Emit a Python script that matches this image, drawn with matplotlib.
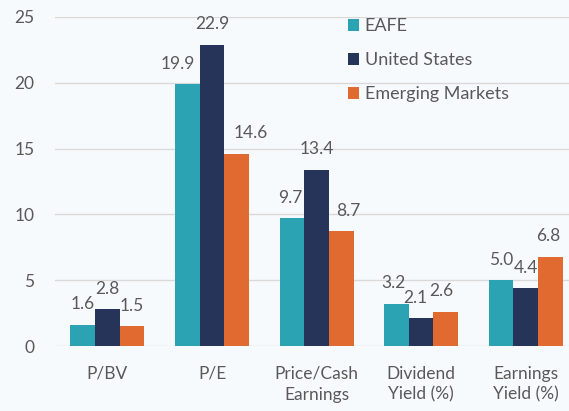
import matplotlib.pyplot as plt
import numpy as np

categories = ["P/BV", "P/E", "Price/Cash\nEarnings", "Dividend\nYield (%)", "Earnings\nYield (%)"]
series_names = ["EAFE", "United States", "Emerging Markets"]
eafe = [1.6, 19.9, 9.7, 3.2, 5.0]
us = [2.8, 22.9, 13.4, 2.1, 4.4]
em = [1.5, 14.6, 8.7, 2.6, 6.8]
yticks = [0, 5, 10, 15, 20, 25]

# label horizontal nudges in pixels (styling only)
label_dx = [
    [0, -10, -2, -3, 0],
    [0, 0, 0, -6, 0],
    [0, 14, 7, -5, -2],
]

colors = ["#2BA3B3", "#263459", "#E06A30"]
bg = "#F7FAFC"
txt = "#595959"

plt.rcParams['font.family'] = ['Lato', 'DejaVu Sans']

fig = plt.figure(figsize=(5.69, 4.11), dpi=100, facecolor=bg)
ax = fig.add_axes([0.097, 0.158, 0.903, 0.801], facecolor=bg)

x = np.arange(len(categories))
w = 0.236
for i, (vals, name) in enumerate(zip([eafe, us, em], series_names)):
    pos = x + (i - 1) * w
    ax.bar(pos, vals, width=w, color=colors[i], label=name, zorder=3)
    for j, (p, v) in enumerate(zip(pos, vals)):
        ax.annotate(f"{v:.1f}", (p, v), xytext=(label_dx[i][j] * 0.72, 9),
                    textcoords="offset points", ha="center", va="bottom",
                    fontsize=12.5, color=txt, zorder=4)

ax.set_ylim(0, 25)
ax.set_xlim(-0.5, 4.414)
ax.set_yticks(yticks)
ax.set_xticks(x)
ax.set_xticklabels(categories, linespacing=1.4)
ax.tick_params(axis='both', length=0, labelsize=12.5, labelcolor=txt)
ax.tick_params(axis='y', pad=15)
ax.tick_params(axis='x', pad=14)
ax.grid(axis='y', color="#D9D9D9", linewidth=1, zorder=0)
for s in ax.spines.values():
    s.set_visible(False)

leg = ax.legend(loc="upper left", bbox_to_anchor=(0.611, 0.955),
                bbox_transform=fig.transFigure, frameon=False,
                borderaxespad=0, borderpad=0,
                fontsize=13, handlelength=0.65, handleheight=0.65,
                handletextpad=0.3, labelspacing=0.98, labelcolor=txt)

fig.savefig("out.png", dpi=100, facecolor=bg)
